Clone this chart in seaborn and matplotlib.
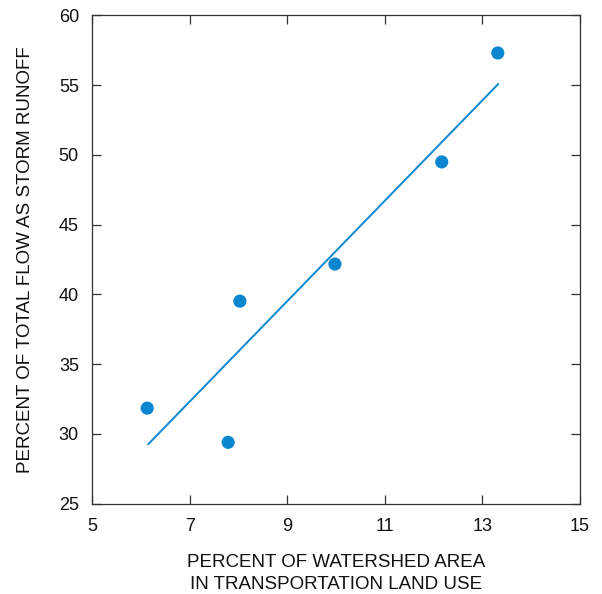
import matplotlib
matplotlib.use("Agg")
import matplotlib.pyplot as plt
import seaborn as sns
import pandas as pd

# observed values
transport_pct = [6.13, 7.79, 8.03, 9.98, 12.17, 13.32]
storm_runoff_pct = [31.85, 29.4, 39.52, 42.18, 49.5, 57.31]

# fitted line end points
fit_x = [6.15, 13.33]
fit_y = [29.26, 55.09]

x_ticks = [5, 7, 9, 11, 13, 15]
y_ticks = [25, 30, 35, 40, 45, 50, 55, 60]

blue = '#0a87cf'

sns.set_style("ticks")
plt.rcParams['font.family'] = ['Liberation Sans', 'DejaVu Sans']

df = pd.DataFrame({'x': transport_pct, 'y': storm_runoff_pct})

fig = plt.figure(figsize=(6.02, 5.94), dpi=100)
ax = fig.add_axes([0.153, 0.152, 0.81, 0.822])

sns.lineplot(x=fit_x, y=fit_y, ax=ax, color=blue, linewidth=1.4)
sns.scatterplot(x='x', y='y', data=df, ax=ax, color=blue, s=90, edgecolor='none', zorder=3)

ax.set_xlim(5, 15)
ax.set_ylim(25, 60)
ax.set_xticks(x_ticks)
ax.set_yticks(y_ticks)
ax.tick_params(direction='in', length=6.5, width=0.9, color='#333333',
               top=True, right=True, labelsize=13, labelcolor='#111111')
ax.tick_params(axis='x', pad=10)
ax.tick_params(axis='y', pad=9.5)
for s in ax.spines.values():
    s.set_visible(True)
    s.set_linewidth(0.9)
    s.set_color('#333333')

ax.set_xlabel('PERCENT OF WATERSHED AREA\nIN TRANSPORTATION LAND USE', fontsize=13.5,
              labelpad=14, linespacing=1.4, color='#111111')
ax.set_ylabel('PERCENT OF TOTAL FLOW AS STORM RUNOFF', fontsize=13.5, labelpad=18,
              color='#111111')

fig.savefig('out.png', dpi=100)
